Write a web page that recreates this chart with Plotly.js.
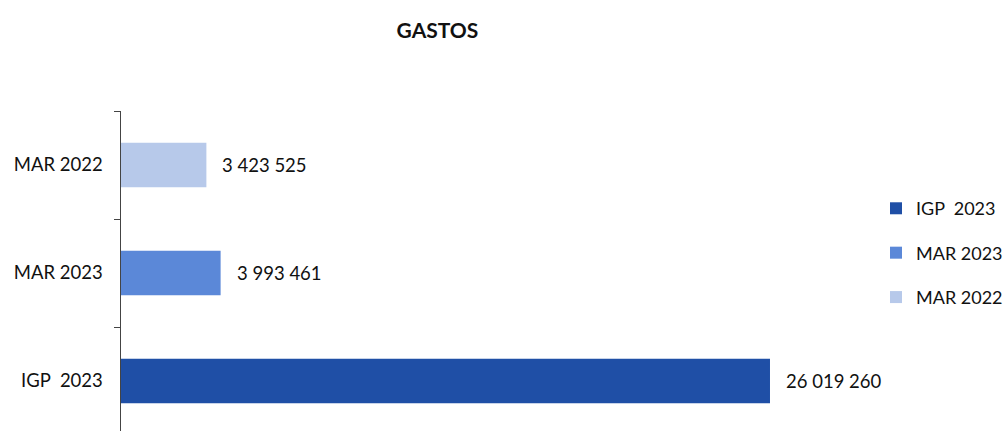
<!DOCTYPE html>
<html>
<head>
<meta charset="utf-8">
<script src="https://cdn.plot.ly/plotly-3.0.1.min.js"></script>
<style>html,body{margin:0;padding:0;background:#fff;}#chart{width:1008px;height:431px;}</style>
</head>
<body>
<div id="chart"></div>
<script>
const categories = ["IGP  2023", "MAR 2023", "MAR 2022"];
const values = [26019260, 3993461, 3423525];
const labels = ["26 019 260", "3 993 461", "3 423 525"];
const colors = ["#1F4FA6", "#5B88D8", "#B7C9EA"];

const traces = categories.map((c, i) => ({
  type: "bar",
  orientation: "h",
  name: c,
  x: [values[i]],
  y: [c],
  width: 0.41,
  marker: {color: colors[i]},
  legendgroup: "g" + i,
  hoverinfo: "skip"
}));

const annotations = categories.map((c, i) => ({
  x: values[i], y: c, xref: "x", yref: "y",
  text: labels[i], showarrow: false, xanchor: "left", xshift: 14,
  font: {family: "Lato, sans-serif", size: 18.5, color: "#111"}
}));

const layout = {
  width: 1008, height: 431,
  margin: {l: 121, r: 128, t: 111, b: 0, pad: 0},
  paper_bgcolor: "#fff", plot_bgcolor: "#fff",
  title: {text: "<b>GASTOS</b>", x: 0.434, xanchor: "center", y: 0.93, yanchor: "middle",
          font: {family: "Lato, sans-serif", size: 21, color: "#111"}},
  barmode: "overlay",
  showlegend: true,
  legend: {x: 0.995, xanchor: "left", y: 0.556, yanchor: "middle", traceorder: "grouped",
           tracegroupgap: 18, font: {family: "Lato, sans-serif", size: 18, color: "#111"}},
  xaxis: {range: [0, 30430000], visible: false, fixedrange: true},
  yaxis: {type: "category", categoryorder: "array", categoryarray: categories,
          range: [-0.463, 2.5], showline: true, linecolor: "#444", linewidth: 1.5,
          ticks: "outside", tickson: "boundaries", ticklen: 6, tickcolor: "#444",
          ticklabelstandoff: 13, showgrid: false, zeroline: false,
          tickfont: {family: "Lato, sans-serif", size: 18.5, color: "#111"}},
  annotations: annotations
};

Plotly.newPlot("chart", traces, layout, {displayModeBar: false, staticPlot: true});
</script>
</body>
</html>
